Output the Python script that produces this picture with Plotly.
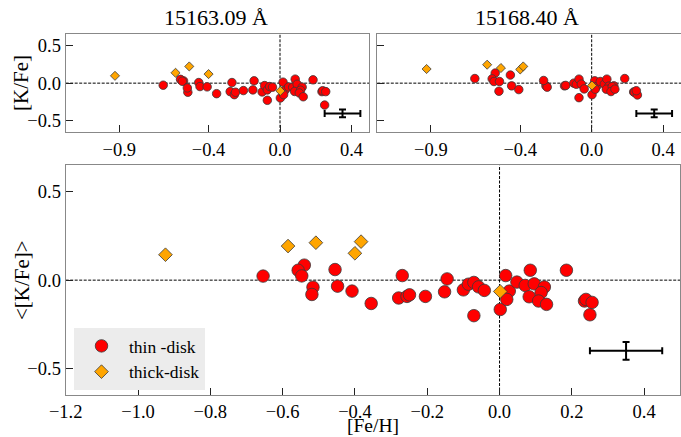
import plotly.graph_objects as go

# ---- data -------------------------------------------------------------
# thin-disk stars: [Fe/H], [K/Fe] from each K I line, and the mean <[K/Fe]>
thin_feh = [-0.654, -0.540, -0.557, -0.547, -0.516, -0.519, -0.455, -0.448, -0.408, -0.355,
            -0.279, -0.256, -0.249, -0.269, -0.205, -0.152, -0.145, -0.100, -0.086, -0.071,
            -0.058, -0.042, -0.071, 0.002, 0.017, 0.027, 0.020, 0.048, 0.071, 0.085,
            0.096, 0.082, 0.124, 0.115, 0.108, 0.130, 0.185, 0.235, 0.239, 0.256, 0.250]
thin_k15163 = [-0.027, 0.030, 0.050, 0.025, -0.120, -0.063, 0.008, -0.045, -0.049, -0.139,
               -0.112, -0.152, -0.120, 0.008, -0.098, -0.089, 0.031, -0.116, -0.032, -0.089,
               -0.045, -0.053, -0.227, -0.196, 0.013, -0.098, -0.152, -0.050, -0.055, 0.053,
               -0.015, -0.110, -0.053, -0.093, -0.130, -0.180, 0.044, -0.112, -0.100, -0.112, -0.290]
thin_k15168 = [0.061, 0.133, 0.057, 0.022, 0.022, -0.107, 0.107, -0.036, -0.085, None,
               None, -0.036, -0.053, 0.035, None, -0.036, -0.030, 0.000, -0.015, 0.053,
               -0.013, -0.076, -0.192, -0.152, 0.031, -0.045, -0.080, 0.022, -0.013, 0.053,
               -0.040, -0.080, -0.036, -0.045, -0.111, -0.080, 0.061, -0.116, -0.120, -0.156, -0.100]
thin_kmean = [0.023, 0.085, 0.056, 0.024, -0.040, -0.081, 0.060, -0.034, -0.062, -0.132,
              -0.101, -0.092, -0.083, 0.026, -0.092, -0.066, 0.007, -0.055, -0.023, -0.013,
              -0.038, -0.058, -0.201, -0.166, 0.026, -0.062, -0.109, -0.011, -0.030, 0.056,
              -0.021, -0.094, -0.039, -0.070, -0.118, -0.137, 0.056, -0.118, -0.109, -0.126, -0.196]

# thick-disk stars
thick_feh = [-0.924, -0.585, -0.508, -0.400, -0.383, 0.002]
thick_k15163 = [0.097, 0.137, 0.221, 0.120, None, -0.103]
thick_k15168 = [0.187, 0.244, 0.200, 0.181, 0.221, -0.032]
thick_kmean = [0.144, 0.193, 0.212, 0.152, 0.218, -0.064]

# typical uncertainty shown as a single error cross
err_pos = (0.35, -0.40)
err_feh = 0.10
err_k = 0.05

line_titles = ["15163.09 Å", "15168.40 Å"]
xticks_top = [-0.9, -0.4, 0.0, 0.4]
xticks_bottom = [-1.2, -1.0, -0.8, -0.6, -0.4, -0.2, 0.0, 0.2, 0.4]
yticks = [-0.5, 0.0, 0.5]

# ---- styling ----------------------------------------------------------
FONT = "Liberation Serif"
RED = "#ff0000"
ORANGE = "#ffa500"
EDGE = "#3a3a3a"
SPINE = "#888888"

W, H = 681, 437

fig = go.Figure()

panels = [
    # (xaxis id, yaxis id, thin y, thick y, circle size, diamond size, legend)
    ("x2", "y2", thin_k15163, thick_k15163, 8.5, 7, False),
    ("x3", "y3", thin_k15168, thick_k15168, 8.5, 7, False),
    ("x", "y", thin_kmean, thick_kmean, 12.5, 10.5, True),
]

for xa, ya, ythin, ythick, cs, ds, leg in panels:
    fig.add_trace(go.Scatter(
        x=thin_feh, y=ythin, mode="markers", xaxis=xa, yaxis=ya,
        name="thin -disk", showlegend=leg,
        marker=dict(symbol="circle", size=cs, color=RED, line=dict(color=EDGE, width=0.8)),
    ))
    fig.add_trace(go.Scatter(
        x=thick_feh, y=ythick, mode="markers", xaxis=xa, yaxis=ya,
        name="thick-disk", showlegend=leg,
        marker=dict(symbol="diamond", size=ds, color=ORANGE, line=dict(color=EDGE, width=0.8)),
    ))
    fig.add_trace(go.Scatter(
        x=[err_pos[0]], y=[err_pos[1]], mode="markers", xaxis=xa, yaxis=ya,
        showlegend=False, hoverinfo="skip",
        marker=dict(size=1, color="black", opacity=0),
        error_x=dict(type="data", array=[err_feh], color="black", thickness=2, width=3.5),
        error_y=dict(type="data", array=[err_k], color="black", thickness=2, width=3.5),
    ))

    # dashed reference lines at zero
    fig.add_shape(type="line", xref=xa, yref=f"{ya} domain", x0=0, x1=0, y0=0, y1=1,
                  line=dict(color="black", width=1, dash="3px,1.5px"), layer="below")
    fig.add_shape(type="line", xref=f"{xa} domain", yref=ya, x0=0, x1=1, y0=0, y1=0,
                  line=dict(color="black", width=1, dash="3px,1.5px"), layer="below")


def px_x(p):
    return p / W


def px_y(p):
    return 1 - p / H


axis_common = dict(
    showgrid=False, zeroline=False, showline=True, mirror=True, automargin=False,
    linecolor=SPINE, linewidth=1.2,
    ticks="inside", ticklen=7, tickwidth=1.2, tickcolor="#222222",
    tickfont=dict(family=FONT, size=18.5, color="black"),
)

x_range = [-1.2, 0.5]
y_range = [-0.65, 0.65]

fig.update_layout(
    width=W, height=H,
    margin=dict(l=0, r=0, t=0, b=0, autoexpand=False),
    paper_bgcolor="white", plot_bgcolor="white",
    font=dict(family=FONT, color="black"),
    xaxis=dict(domain=[px_x(65.7), px_x(680.3)], range=x_range, anchor="y",
               tickvals=xticks_bottom, tickformat=".1f", **axis_common),
    yaxis=dict(domain=[px_y(395), px_y(165.3)], range=y_range, anchor="x",
               tickvals=yticks, tickformat=".1f", **axis_common),
    xaxis2=dict(domain=[px_x(65.7), px_x(369.3)], range=x_range, anchor="y2",
                tickvals=xticks_top, tickformat=".1f", **axis_common),
    yaxis2=dict(domain=[px_y(132.3), px_y(34)], range=y_range, anchor="x2",
                tickvals=yticks, tickformat=".1f", **axis_common),
    xaxis3=dict(domain=[px_x(377.3), 1.0], range=x_range, anchor="y3",
                tickvals=xticks_top, tickformat=".1f", **axis_common),
    yaxis3=dict(domain=[px_y(132.3), px_y(34)], range=y_range, anchor="x3",
                tickvals=yticks, showticklabels=False, **axis_common),
    legend=dict(
        x=px_x(74), y=px_y(328), xanchor="left", yanchor="top",
        bgcolor="#ececec", borderwidth=0,
        font=dict(family=FONT, size=17.5, color="black"),
        itemwidth=45,
    ),
    showlegend=True,
)

# panel titles
for title, cx in zip(line_titles, [216, 527]):
    fig.add_annotation(text=title, x=px_x(cx), y=px_y(18), xref="paper", yref="paper",
                       xanchor="center", yanchor="middle", showarrow=False,
                       font=dict(family=FONT, size=22, color="black"))

# axis labels
fig.add_annotation(text="[Fe/H]", x=px_x(373), y=0, xref="paper", yref="paper",
                   xanchor="center", yanchor="bottom", showarrow=False, borderpad=0,
                   font=dict(family=FONT, size=19.5, color="black"))
fig.add_annotation(text="[K/Fe]", x=px_x(21), y=px_y(83), xref="paper", yref="paper",
                   xanchor="center", yanchor="middle", showarrow=False, textangle=-90,
                   font=dict(family=FONT, size=21, color="black"))
fig.add_annotation(text="&lt;[K/Fe]&gt;", x=px_x(22), y=px_y(280), xref="paper", yref="paper",
                   xanchor="center", yanchor="middle", showarrow=False, textangle=-90,
                   font=dict(family=FONT, size=21, color="black"))

fig.write_html("out.html")
